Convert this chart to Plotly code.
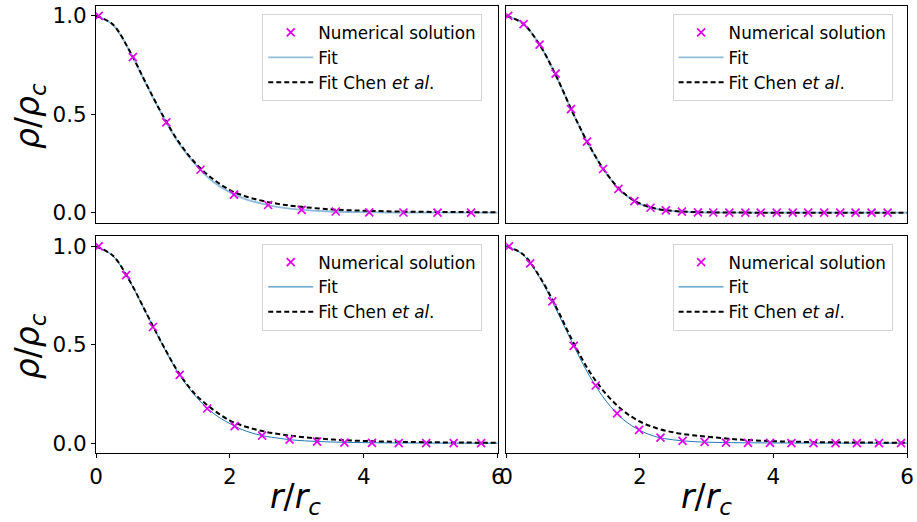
import plotly.graph_objects as go
from plotly.subplots import make_subplots

# ---------------- data ----------------
r_grid = [0.0, 0.25, 0.5, 0.75, 1.0, 1.25, 1.5, 1.75, 2.0, 2.25, 2.5, 2.75,
          3.0, 3.5, 4.0, 4.5, 5.0, 5.5, 6.0]

# top-left panel
tl_r = [0.04, 0.55, 1.05, 1.56, 2.06, 2.57, 3.07, 3.58, 4.08, 4.59, 5.10, 5.60]
tl_num = [1.0, 0.79, 0.459, 0.218, 0.092, 0.039, 0.014, 0.006, 0.002, 0.001, 0.0, 0.0]
tl_fit = [1.0, 0.955, 0.822, 0.652, 0.489, 0.346, 0.239, 0.157, 0.103, 0.066, 0.044,
          0.027, 0.017, 0.006, 0.0025, 0.001, 0.0005, 0.0002, 0.0001]
tl_chen = [1.0, 0.957, 0.823, 0.655, 0.492, 0.352, 0.246, 0.170, 0.115, 0.081, 0.059,
           0.043, 0.032, 0.017, 0.010, 0.006, 0.004, 0.003, 0.002]

# top-right panel
tr_r = [0.03, 0.26, 0.50, 0.74, 0.97, 1.21, 1.45, 1.68, 1.92, 2.16, 2.39, 2.63, 2.87,
        3.10, 3.34, 3.58, 3.81, 4.05, 4.29, 4.52, 4.76, 5.00, 5.23, 5.47, 5.71]
tr_num = [1.0, 0.958, 0.854, 0.706, 0.526, 0.361, 0.222, 0.121, 0.059, 0.025, 0.012,
          0.005, 0.002, 0.001, 0.0, 0.0, 0.0, 0.0, 0.0, 0.0, 0.0, 0.0, 0.0, 0.0, 0.0]
tr_fit = [1.0, 0.962, 0.854, 0.692, 0.505, 0.336, 0.198, 0.100, 0.045, 0.019, 0.008,
          0.003, 0.001, 0.0003, 0.0001, 0.0, 0.0, 0.0, 0.0]
tr_chen = [1.0, 0.961, 0.853, 0.693, 0.506, 0.337, 0.200, 0.102, 0.047, 0.020, 0.009,
           0.004, 0.002, 0.0005, 0.0002, 0.0001, 0.0, 0.0, 0.0]

# bottom-left panel
bl_r = [0.04, 0.45, 0.85, 1.25, 1.66, 2.07, 2.48, 2.89, 3.30, 3.71, 4.12, 4.52, 4.93,
        5.34, 5.75]
bl_num = [1.0, 0.854, 0.590, 0.347, 0.176, 0.087, 0.0385, 0.018, 0.008, 0.003, 0.001,
          0.0005, 0.0, 0.0, 0.0]
bl_fit = [1.0, 0.952, 0.824, 0.660, 0.494, 0.345, 0.233, 0.152, 0.099, 0.060, 0.037,
          0.024, 0.0144, 0.006, 0.0025, 0.001, 0.0004, 0.0002, 0.0001]
bl_chen = [1.0, 0.953, 0.826, 0.662, 0.497, 0.350, 0.242, 0.170, 0.115, 0.082, 0.060,
           0.045, 0.034, 0.019, 0.011, 0.007, 0.0045, 0.003, 0.002]

# bottom-right panel
br_r = [0.04, 0.36, 0.69, 1.01, 1.34, 1.66, 1.99, 2.31, 2.64, 2.97, 3.29, 3.62, 3.95,
        4.27, 4.60, 4.93, 5.25, 5.58, 5.91]
br_num = [1.0, 0.913, 0.720, 0.494, 0.293, 0.151, 0.067, 0.028, 0.012, 0.006, 0.003,
          0.0015, 0.001, 0.0005, 0.0, 0.0, 0.0, 0.0, 0.0]
br_fit = [1.0, 0.958, 0.842, 0.678, 0.502, 0.340, 0.212, 0.121, 0.065, 0.032, 0.017,
          0.009, 0.005, 0.002, 0.001, 0.0005, 0.0002, 0.0001, 0.0]
br_chen = [1.0, 0.960, 0.846, 0.690, 0.515, 0.362, 0.248, 0.165, 0.110, 0.076, 0.055,
           0.042, 0.033, 0.018, 0.010, 0.006, 0.004, 0.003, 0.002]

series_names = ["Numerical solution", "Fit", "Fit Chen <i>et al</i>."]
x_ticks = [0, 2, 4, 6]
y_ticks = [0.0, 0.5, 1.0]

# ---------------- figure ----------------
FONT = "DejaVu Sans"
MAG = "#e000ee"
fig = make_subplots(rows=2, cols=2)

panels = [
    (1, 1, tl_r, tl_num, tl_fit, tl_chen, "rgba(31,119,180,0.5)", 1.8),
    (1, 2, tr_r, tr_num, tr_fit, tr_chen, "rgba(31,119,180,0.5)", 1.8),
    (2, 1, bl_r, bl_num, bl_fit, bl_chen, "#1f77b4", 1.0),
    (2, 2, br_r, br_num, br_fit, br_chen, "#1f77b4", 1.0),
]

for i, (row, col, rp, yp, fit, chen, fcol, fw) in enumerate(panels):
    leg = "legend" if i == 0 else f"legend{i + 1}"
    fig.add_trace(go.Scatter(x=r_grid, y=fit, mode="lines", name=series_names[1],
                             line=dict(color=fcol, width=fw, shape="spline"),
                             legend=leg, legendrank=2), row=row, col=col)
    fig.add_trace(go.Scatter(x=r_grid, y=chen, mode="lines", name=series_names[2],
                             line=dict(color="black", width=2, dash="5px,3px",
                                       shape="spline"),
                             legend=leg, legendrank=3), row=row, col=col)
    fig.add_trace(go.Scatter(x=rp, y=yp, mode="markers", name=series_names[0],
                             marker=dict(symbol="x-thin", size=8, color=MAG,
                                         line=dict(width=1.7, color=MAG)),
                             legend=leg, legendrank=1), row=row, col=col)

# domains in the 917x522 canvas: l=96, r=7, t=3, b=69
x_dom = {1: [0.0, 0.4955], 2: [0.5058, 1.0]}
y_dom = {1: [0.5156, 1.0], 2: [0.0, 0.4844]}

axis_common = dict(showgrid=False, zeroline=False, showline=True, mirror=True,
                   linecolor="black", linewidth=1,
                   tickfont=dict(family=FONT, size=21.5, color="black"),
                   ticklen=4, tickwidth=1, tickcolor="black")

for row in (1, 2):
    for col in (1, 2):
        fig.update_xaxes(domain=x_dom[col], range=[0, 6], tickvals=x_ticks,
                         ticks="outside" if row == 2 else "",
                         showticklabels=(row == 2), row=row, col=col, **axis_common)
        fig.update_yaxes(domain=y_dom[row], range=[-0.05, 1.05], tickvals=y_ticks,
                         tickformat=".1f",
                         ticks="outside" if col == 1 else "",
                         showticklabels=(col == 1), row=row, col=col, **axis_common)

leg_style = dict(xanchor="left", yanchor="top", bgcolor="rgba(255,255,255,0.8)",
                 bordercolor="#d5d5d5", borderwidth=1, itemwidth=45,
                 font=dict(family=FONT, size=16.8, color="black"), tracegroupgap=0)

fig.update_layout(
    width=917, height=522,
    margin=dict(l=96, r=7, t=3, b=69),
    plot_bgcolor="white", paper_bgcolor="white",
    font=dict(family=FONT, color="black"),
    legend=dict(x=0.205, y=0.982, **leg_style),
    legend2=dict(x=0.711, y=0.982, **leg_style),
    legend3=dict(x=0.205, y=0.4684, **leg_style),
    legend4=dict(x=0.711, y=0.4684, **leg_style),
)

ytitle = "<i>ρ</i>/<i>ρ</i><sub><i>c</i></sub>"
xtitle = "<i>r</i>/<i>r</i><sub><i>c</i></sub>"
ann_font = dict(family=FONT, size=33, color="black")
for yc in (0.755, 0.24):
    fig.add_annotation(text=ytitle, xref="paper", yref="paper", x=-0.082, y=yc,
                       xanchor="center", yanchor="middle", textangle=-90,
                       showarrow=False, font=ann_font)
for xc in (0.2457, 0.7527):
    fig.add_annotation(text=xtitle, xref="paper", yref="paper", x=xc, y=-0.101,
                       xanchor="center", yanchor="middle",
                       showarrow=False, font=ann_font)

fig.write_html("out.html")
